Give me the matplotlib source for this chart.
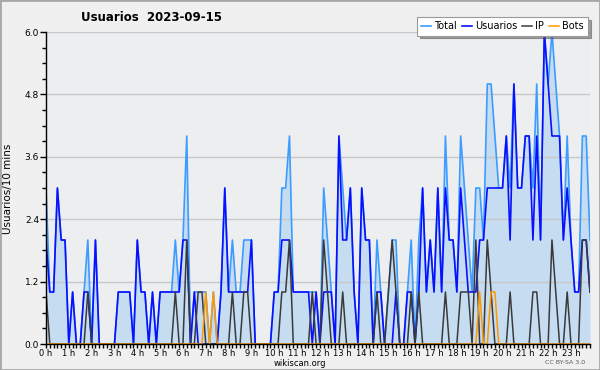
import numpy as np
import matplotlib.pyplot as plt
from matplotlib.ticker import MultipleLocator, FixedLocator
from matplotlib.patches import Rectangle

# valores cada 10 minutos (144 puntos)
total = [3, 1, 1, 3, 2, 2, 0, 1, 0, 0, 1, 2, 0, 2, 0, 0, 0, 0, 0, 1, 1, 1, 1, 0,
         2, 1, 1, 0, 1, 0, 1, 1, 1, 1, 2, 1, 2, 4, 0, 1, 1, 1, 1, 0, 1, 0, 1, 3,
         1, 2, 1, 1, 2, 2, 2, 0, 0, 0, 0, 0, 1, 1, 3, 3, 4, 1, 1, 1, 1, 1, 1, 1,
         0, 3, 2, 1, 0, 4, 3, 2, 3, 1, 0, 3, 2, 2, 0, 2, 1, 0, 1, 2, 2, 0, 0, 1,
         2, 0, 2, 3, 1, 2, 1, 3, 1, 4, 2, 2, 1, 4, 3, 2, 1, 3, 3, 2, 5, 5, 4, 3,
         3, 4, 3, 5, 3, 3, 4, 4, 3, 5, 2, 6, 5, 6, 5, 4, 2, 4, 2, 1, 1, 4, 4, 2]
usuarios = [2, 1, 1, 3, 2, 2, 0, 1, 0, 0, 1, 1, 0, 2, 0, 0, 0, 0, 0, 1, 1, 1, 1, 0,
            2, 1, 1, 0, 1, 0, 1, 1, 1, 1, 1, 1, 2, 2, 0, 1, 0, 0, 0, 0, 0, 0, 1, 3,
            1, 1, 1, 1, 1, 1, 2, 0, 0, 0, 0, 0, 1, 1, 2, 2, 2, 1, 1, 1, 1, 1, 0, 1,
            0, 1, 1, 1, 0, 4, 2, 2, 3, 1, 0, 3, 2, 2, 0, 1, 1, 0, 0, 0, 1, 0, 0, 1,
            1, 0, 1, 3, 1, 2, 1, 3, 1, 3, 2, 2, 1, 3, 2, 1, 1, 1, 2, 2, 3, 3, 3, 3,
            3, 4, 2, 5, 3, 3, 4, 4, 2, 4, 2, 6, 5, 4, 4, 4, 2, 3, 2, 1, 1, 2, 2, 1]
ip = [1, 0, 0, 0, 0, 0, 0, 0, 0, 0, 0, 1, 0, 0, 0, 0, 0, 0, 0, 0, 0, 0, 0, 0,
      0, 0, 0, 0, 0, 0, 0, 0, 0, 0, 1, 0, 0, 2, 0, 0, 1, 1, 0, 0, 0, 0, 0, 0,
      0, 1, 0, 0, 1, 1, 0, 0, 0, 0, 0, 0, 0, 0, 1, 1, 2, 0, 0, 0, 0, 0, 1, 0,
      0, 2, 1, 0, 0, 0, 1, 0, 0, 0, 0, 0, 0, 0, 0, 1, 0, 0, 1, 2, 1, 0, 0, 0,
      1, 0, 1, 0, 0, 0, 0, 0, 0, 1, 0, 0, 0, 1, 1, 1, 0, 2, 0, 0, 2, 1, 0, 0,
      0, 0, 1, 0, 0, 0, 0, 0, 1, 1, 0, 0, 0, 2, 1, 0, 0, 1, 0, 0, 0, 2, 2, 1]
bots = [0, 0, 0, 0, 0, 0, 0, 0, 0, 0, 0, 0, 0, 0, 0, 0, 0, 0, 0, 0, 0, 0, 0, 0,
        0, 0, 0, 0, 0, 0, 0, 0, 0, 0, 0, 0, 0, 0, 0, 0, 0, 0, 1, 0, 1, 0, 0, 0,
        0, 0, 0, 0, 0, 0, 0, 0, 0, 0, 0, 0, 0, 0, 0, 0, 0, 0, 0, 0, 0, 0, 0, 0,
        0, 0, 0, 0, 0, 0, 0, 0, 0, 0, 0, 0, 0, 0, 0, 0, 0, 0, 0, 0, 0, 0, 0, 0,
        0, 0, 0, 0, 0, 0, 0, 0, 0, 0, 0, 0, 0, 0, 0, 0, 0, 0, 1, 0, 0, 1, 1, 0,
        0, 0, 0, 0, 0, 0, 0, 0, 0, 0, 0, 0, 0, 0, 0, 0, 0, 0, 0, 0, 0, 0, 0, 0]
horas = [f'{h} h' for h in range(24)]
y_ticks = [0.0, 1.2, 2.4, 3.6, 4.8, 6.0]

x = np.arange(len(total))

fig = plt.figure(figsize=(6, 3.7), dpi=100, facecolor='#f0f0f0')
ax = fig.add_axes([46/600, 26/370, 544/600, 312/370])
ax.set_facecolor('#edeef0')

ax.fill_between(x, total, color='#c6dcf0', lw=0, zorder=1)
ax.plot(x, total, color='#3d9cff', lw=1.2, zorder=3, label='Total')
ax.plot(x, usuarios, color='#0a10ff', lw=1.2, zorder=4, label='Usuarios')
ax.plot(x, ip, color='#3a3a3a', lw=1.1, zorder=5, label='IP')
ax.plot(x, bots, color='#ff9900', lw=1.1, zorder=6, label='Bots')

ax.set_xlim(0, 143)
ax.set_ylim(0, 6)
ax.set_yticks(y_ticks)
ax.set_yticklabels([f'{v:.1f}' for v in y_ticks])
ax.yaxis.set_minor_locator(MultipleLocator(0.3))
ax.xaxis.set_major_locator(FixedLocator(range(0, 144, 6)))
ax.set_xticklabels(horas)
ax.xaxis.set_minor_locator(MultipleLocator(1))
ax.grid(axis='y', color='#c8c8c8', lw=1, zorder=2)
ax.set_axisbelow(False)
for s in ['top', 'right']:
    ax.spines[s].set_visible(False)
for s in ['left', 'bottom']:
    ax.spines[s].set_linewidth(1)
    ax.spines[s].set_zorder(7)
ax.tick_params(axis='y', which='major', direction='out', length=4, width=1,
               labelsize=6.5, pad=1)
ax.tick_params(axis='x', which='major', direction='out', length=3, width=1,
               labelsize=6, pad=0.5)
ax.tick_params(axis='both', which='minor', direction='out', length=3, width=1)

fig.text(0.014, 0.49, 'Usuarios/10 mins', rotation=90, fontsize=7.5,
         ha='center', va='center')
fig.text(0.252, 0.952, 'Usuarios  2023-09-15', fontsize=8.5, fontweight='bold',
         ha='center', va='center')
fig.text(0.5, 1 - 363/370, 'wikiscan.org', fontsize=6, ha='center', va='center')
fig.text(0.942, 1 - 363/370, 'CC BY-SA 3.0', fontsize=4.5, color='#555555',
         ha='center', va='center')

leg = ax.legend(loc='upper right', bbox_to_anchor=(593/600, 1 - 12/370),
                bbox_transform=fig.transFigure, ncol=4, fontsize=7,
                handlelength=1.0, columnspacing=0.5, handletextpad=0.35,
                borderpad=0.45, fancybox=False, shadow=True,
                edgecolor='#9a9a9a', framealpha=1)
leg.get_frame().set_linewidth(0.8)

fig.patches.append(Rectangle((0, 0), 1, 1, transform=fig.transFigure,
                             fill=False, edgecolor='#a8a8a8', lw=2))

fig.savefig('out.png', dpi=100, facecolor=fig.get_facecolor())
